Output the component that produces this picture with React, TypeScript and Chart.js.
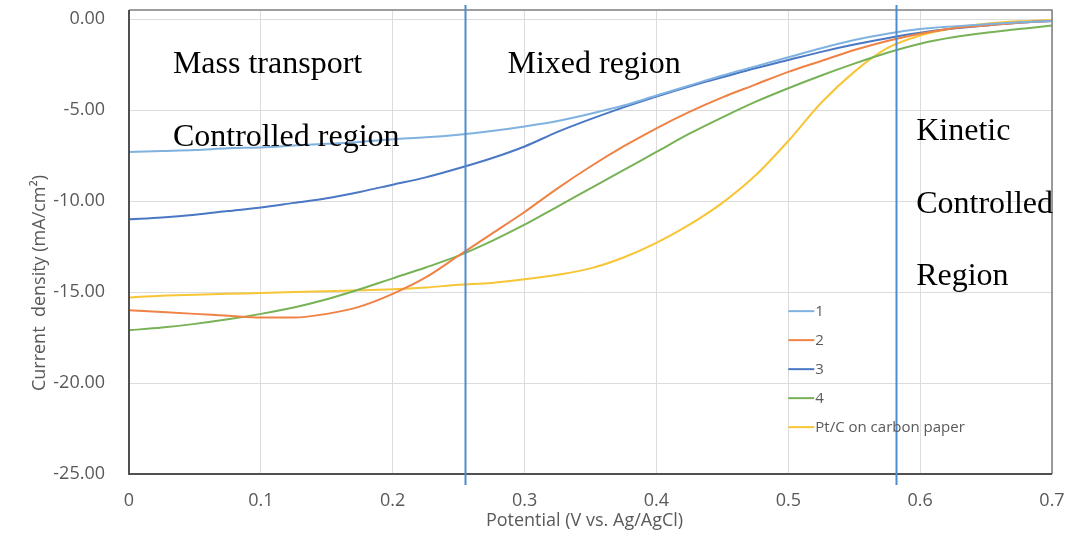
import React, { useEffect, useRef } from "react";
import { Chart, registerables } from "chart.js";

Chart.register(...registerables);

// Potential (V vs. Ag/AgCl)
const potential = [
  0, 0.025, 0.05, 0.075, 0.1, 0.125, 0.15, 0.175, 0.2, 0.225, 0.25, 0.275, 0.3, 0.325,
  0.35, 0.375, 0.4, 0.425, 0.45, 0.475, 0.5, 0.525, 0.55, 0.575, 0.6, 0.625, 0.65, 0.675, 0.7,
];

// Current density (mA/cm²)
const series1 = [
  -7.3, -7.25, -7.2, -7.1, -7.05, -6.95, -6.85, -6.75, -6.6, -6.5, -6.35, -6.15, -5.9, -5.6,
  -5.2, -4.75, -4.2, -3.65, -3.1, -2.6, -2.1, -1.6, -1.15, -0.8, -0.55, -0.4, -0.28, -0.18, -0.1,
];
const series2 = [
  -16.0, -16.1, -16.2, -16.3, -16.4, -16.4, -16.2, -15.8, -15.1, -14.2, -13.0, -11.8, -10.6, -9.3,
  -8.1, -7.0, -6.0, -5.1, -4.3, -3.6, -2.9, -2.3, -1.7, -1.2, -0.8, -0.5, -0.35, -0.2, -0.1,
];
const series3 = [
  -11.0, -10.9, -10.75, -10.55, -10.35, -10.1, -9.85, -9.5, -9.1, -8.7, -8.2, -7.65, -7.0, -6.2,
  -5.5, -4.85, -4.25, -3.7, -3.2, -2.7, -2.25, -1.8, -1.4, -1.05, -0.75, -0.52, -0.35, -0.2, -0.1,
];
const series4 = [
  -17.1, -16.95, -16.75, -16.5, -16.2, -15.85, -15.4, -14.85, -14.25, -13.65, -13.0, -12.2, -11.3, -10.3,
  -9.3, -8.3, -7.3, -6.3, -5.4, -4.55, -3.8, -3.1, -2.45, -1.85, -1.35, -1.0, -0.75, -0.55, -0.35,
];
const series5 = [
  -15.3, -15.2, -15.15, -15.1, -15.05, -15.0, -14.95, -14.9, -14.85, -14.75, -14.6, -14.5, -14.3, -14.05,
  -13.7, -13.1, -12.3, -11.3, -10.1, -8.6, -6.7, -4.6, -2.9, -1.6, -0.9, -0.5, -0.25, -0.12, -0.05,
];

const seriesLabels = ["1", "2", "3", "4", "Pt/C on carbon paper"];
const seriesColors = ["#7fb2e0", "#ef8245", "#4a78c4", "#78b257", "#f7c535"];
const seriesValues = [series1, series2, series3, series4, series5];

// Region boundaries (V)
const regionBoundaries = [0.255, 0.582];

// Region annotations: text, potential (V), current density (mA/cm²) of baseline
const annotationTexts = ["Mass transport", "Controlled region", "Mixed region", "Kinetic", "Controlled", "Region"];
const annotationX = [0.0333, 0.0333, 0.287, 0.597, 0.597, 0.597];
const annotationY = [-2.97, -6.99, -2.97, -6.65, -10.66, -14.6];

const xTitle = "Potential (V vs. Ag/AgCl)";
const yTitle = "Current  density (mA/cm²)";

const SANS = "'Open Sans', 'DejaVu Sans', sans-serif";
const SERIF = "'Liberation Serif', 'DejaVu Serif', serif";
const TEXT_GRAY = "#595959";

export default function App() {
  const canvasRef = useRef<HTMLCanvasElement | null>(null);

  useEffect(() => {
    if (!canvasRef.current) return;

    const overlayPlugin = {
      id: "overlay",
      afterDatasetsDraw(chart: any) {
        const { ctx, chartArea } = chart;
        const xs = chart.scales.x;
        const ys = chart.scales.y;
        const { left, right, top, bottom } = chartArea;
        ctx.save();

        // frame
        ctx.strokeStyle = "#7f7f7f";
        ctx.lineWidth = 1.5;
        ctx.beginPath();
        ctx.moveTo(left, top);
        ctx.lineTo(right, top);
        ctx.lineTo(right, bottom);
        ctx.stroke();
        ctx.strokeStyle = "#505050";
        ctx.lineWidth = 2;
        ctx.beginPath();
        ctx.moveTo(left, top);
        ctx.lineTo(left, bottom);
        ctx.lineTo(right, bottom);
        ctx.stroke();

        // region boundaries
        ctx.strokeStyle = "#4f8bd0";
        ctx.lineWidth = 2;
        regionBoundaries.forEach((v) => {
          const px = Math.round(xs.getPixelForValue(v)) + 0.5;
          ctx.beginPath();
          ctx.moveTo(px, top - 5);
          ctx.lineTo(px, bottom + 11);
          ctx.stroke();
        });

        // annotations
        ctx.fillStyle = "#000";
        ctx.font = `32px ${SERIF}`;
        ctx.textAlign = "left";
        ctx.textBaseline = "alphabetic";
        annotationTexts.forEach((t, i) => {
          ctx.fillText(t, xs.getPixelForValue(annotationX[i]), ys.getPixelForValue(annotationY[i]));
        });

        // legend
        const lx = xs.getPixelForValue(0.5);
        const ly = ys.getPixelForValue(-16.05);
        ctx.font = `15px ${SANS}`;
        ctx.textBaseline = "middle";
        seriesLabels.forEach((lab, i) => {
          const y = ly + i * 29;
          ctx.strokeStyle = seriesColors[i];
          ctx.lineWidth = 2;
          ctx.beginPath();
          ctx.moveTo(lx, y);
          ctx.lineTo(lx + 26, y);
          ctx.stroke();
          ctx.fillStyle = TEXT_GRAY;
          ctx.fillText(lab, lx + 27, y + 1);
        });

        // axis titles
        ctx.fillStyle = TEXT_GRAY;
        ctx.font = `18px ${SANS}`;
        ctx.textAlign = "center";
        ctx.textBaseline = "middle";
        ctx.fillText(xTitle, (left + right) / 2 - 6, bottom + 47);
        ctx.translate(40, (top + bottom) / 2 + 41);
        ctx.rotate(-Math.PI / 2);
        ctx.fillText(yTitle, 0, 0);

        ctx.restore();
      },
    };

    const chart = new Chart(canvasRef.current, {
      type: "line",
      data: {
        datasets: seriesValues.map((vals, i) => ({
          label: seriesLabels[i],
          data: potential.map((p, j) => ({ x: p, y: vals[j] })),
          borderColor: seriesColors[i],
          backgroundColor: seriesColors[i],
          borderWidth: 2,
          pointRadius: 0,
          fill: false,
          cubicInterpolationMode: "monotone" as const,
        })),
      },
      options: {
        animation: false,
        responsive: true,
        maintainAspectRatio: false,
        layout: { padding: { left: 0, top: 10, right: 26, bottom: 0 } },
        plugins: {
          legend: { display: false },
          tooltip: { enabled: false },
          title: { display: false },
        },
        scales: {
          x: {
            type: "linear",
            min: 0,
            max: 0.7,
            afterFit: (scale: any) => {
              scale.height = 59;
              scale.paddingLeft = 0;
              scale.paddingRight = 0;
            },
            grid: { color: "#dcdcdc", lineWidth: 1, drawTicks: false },
            border: { display: false },
            ticks: {
              stepSize: 0.1,
              padding: 16,
              color: TEXT_GRAY,
              font: { family: SANS, size: 18 },
              callback: (v: any) => Number(Number(v).toFixed(1)).toString(),
            },
          },
          y: {
            type: "linear",
            min: -25,
            max: 0.5,
            afterFit: (scale: any) => {
              scale.width = 129;
              scale.paddingTop = 0;
              scale.paddingBottom = 0;
            },
            grid: { color: "#dcdcdc", lineWidth: 1, drawTicks: false },
            border: { display: false },
            ticks: {
              stepSize: 5,
              includeBounds: false,
              padding: 24,
              color: TEXT_GRAY,
              font: { family: SANS, size: 18 },
              callback: (v: any) => Number(v).toFixed(2),
            },
          },
        },
      },
      plugins: [overlayPlugin],
    });

    return () => chart.destroy();
  }, []);

  return (
    <div style={{ position: "absolute", left: 0, top: 0, width: 1078, height: 533, background: "#fff" }}>
      <canvas ref={canvasRef} />
    </div>
  );
}
